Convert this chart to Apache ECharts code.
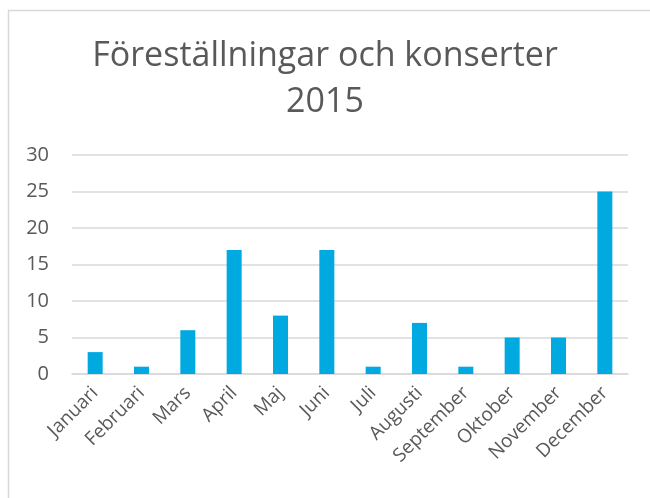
<!DOCTYPE html>
<html>
<head>
<meta charset="utf-8">
<script src="https://cdn.jsdelivr.net/npm/echarts@6/dist/echarts.min.js"></script>
<style>
  html, body { margin: 0; padding: 0; background: #fff; }
  #chart { width: 650px; height: 498px; }
</style>
</head>
<body>
<div id="chart"></div>
<script>
// månader och antal
var months = ['Januari', 'Februari', 'Mars', 'April', 'Maj', 'Juni', 'Juli', 'Augusti', 'September', 'Oktober', 'November', 'December'];
var counts = [3, 1, 6, 17, 8, 17, 1, 7, 1, 5, 5, 25];
var yTicks = [0, 5, 10, 15, 20, 25, 30];

var chart = echarts.init(document.getElementById('chart'));
chart.setOption({
  animation: false,
  textStyle: { fontFamily: 'Open Sans' },
  graphic: [
    {
      type: 'rect',
      shape: { x: 8.5, y: 10.5, width: 700, height: 520 },
      style: { fill: 'none', stroke: '#D9D9D9', lineWidth: 1.5 },
      silent: true
    }
  ],
  title: {
    text: 'Föreställningar och konserter\n2015',
    left: 'center',
    top: 28,
    textStyle: {
      color: '#595959',
      fontSize: 34,
      fontWeight: 'normal',
      fontFamily: 'Open Sans',
      lineHeight: 46
    }
  },
  grid: { left: 72, right: 22, top: 155, bottom: 124 },
  xAxis: {
    type: 'category',
    data: months,
    axisTick: { show: false },
    axisLine: { lineStyle: { color: '#D9D9D9', width: 1.5 } },
    axisLabel: {
      interval: 0,
      rotate: 45,
      color: '#595959',
      fontSize: 19,
      margin: 16
    }
  },
  yAxis: {
    type: 'value',
    min: 0,
    max: 30,
    interval: 5,
    axisLine: { show: false },
    axisTick: { show: false },
    axisLabel: {
      color: '#595959',
      fontSize: 20,
      margin: 23,
      formatter: function (v) { return yTicks.indexOf(v) >= 0 ? String(v) : ''; }
    },
    splitLine: { lineStyle: { color: '#D9D9D9', width: 1.5 } }
  },
  series: [
    {
      type: 'bar',
      data: counts,
      barWidth: 15,
      itemStyle: { color: '#00A9E0' }
    }
  ]
});
</script>
</body>
</html>
